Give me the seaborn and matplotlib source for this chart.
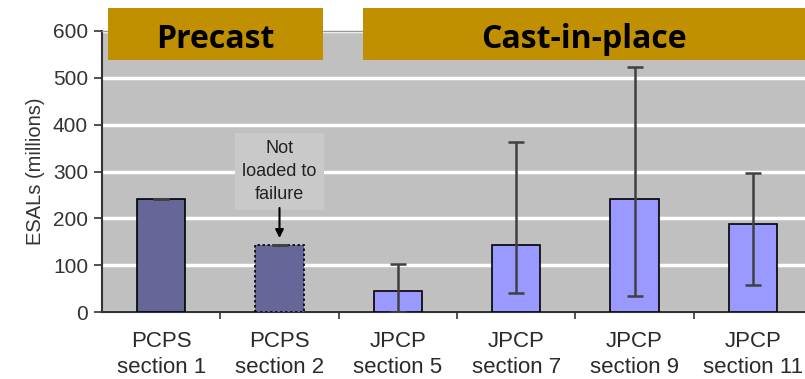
import numpy as np
import pandas as pd
import seaborn as sns
import matplotlib.pyplot as plt

sections = ["PCPS\nsection 1", "PCPS\nsection 2", "JPCP\nsection 5",
            "JPCP\nsection 7", "JPCP\nsection 9", "JPCP\nsection 11"]
kind = ["Precast", "Precast", "Cast-in-place", "Cast-in-place",
        "Cast-in-place", "Cast-in-place"]
esals = [241, 143, 45, 143, 241, 188]
err_low = [241, 143, 0, 41, 34, 58]
err_high = [241, 143, 102, 363, 524, 297]

df = pd.DataFrame({"section": sections, "kind": kind, "esals": esals})

sns.set_theme(style="white")
plt.rcParams['font.family'] = ['Liberation Sans', 'DejaVu Sans']

fig = plt.figure(figsize=(8.05, 3.79), dpi=100)
ax = fig.add_axes([102 / 805, 67 / 379, 710 / 805, 281 / 379])
ax.set_facecolor("#c0c0c0")

sns.barplot(data=df, x="section", y="esals", hue="kind", dodge=False,
            palette={"Precast": "#666699", "Cast-in-place": "#9999ff"},
            saturation=1, width=0.41, edgecolor="black", linewidth=1.2,
            legend=False, ax=ax, zorder=3)

# dotted outline for the section not loaded to failure
ax.patches[1].set_linestyle((0, (1.5, 1.5)))

x = np.arange(len(sections))
mid = np.array(esals)
yerr = [mid - np.array(err_low), np.array(err_high) - mid]
ax.errorbar(x, mid, yerr=yerr, fmt="none", ecolor="#404040",
            elinewidth=1.8, capsize=6, capthick=1.8, zorder=4)

ax.set_ylim(0, 600)
ax.set_xlim(-0.5, 5.5)
ax.set_yticks(range(0, 601, 100))
ax.yaxis.grid(True, color="white", linewidth=2.5, zorder=0)
ax.set_axisbelow(True)
ax.set_xlabel("")
ax.set_ylabel("ESALs (millions)", fontsize=14.5, color="#333333", labelpad=6)

ax.tick_params(axis="y", direction="out", length=6, width=1.2,
               colors="#333333", labelsize=15, left=True, pad=4)
ax.tick_params(axis="x", which="major", length=0, labelsize=16,
               labelcolor="#2a2a2a", pad=14)
for lab in ax.get_xticklabels():
    lab.set_linespacing(1.3)
ax.set_xticks(np.arange(0.5, 5.5, 1), minor=True)
ax.tick_params(axis="x", which="minor", direction="out", length=5,
               width=1.2, color="#333333", bottom=True)

for s in ["left", "bottom"]:
    ax.spines[s].set_color("#333333")
    ax.spines[s].set_linewidth(1.5)
ax.spines["top"].set_color("#999999")
ax.spines["top"].set_linewidth(1)
ax.spines["right"].set_visible(False)

# annotation
ax.text(1, 300, "Not\nloaded to\nfailure", ha="center", va="center",
        fontsize=13, color="#222222", linespacing=1.45,
        bbox=dict(boxstyle="square,pad=0.4", facecolor="#c9c9c9",
                  edgecolor="none"), zorder=5)
ax.annotate("", xy=(1, 152), xytext=(1, 228),
            arrowprops=dict(arrowstyle="-|>", color="black", lw=1.5,
                            mutation_scale=12), zorder=6)

# category banners
for label, x0, x1 in [("Precast", 108, 323), ("Cast-in-place", 363, 805)]:
    fig.patches.append(plt.Rectangle((x0 / 805, 1 - 60 / 379),
                                     (x1 - x0) / 805, 52 / 379,
                                     transform=fig.transFigure,
                                     facecolor="#c09000", edgecolor="none",
                                     zorder=10))
    fig.text((x0 + x1) / 2 / 805, 1 - 40 / 379, label, ha="center",
             va="center", fontsize=23, fontweight="bold",
             family=["Open Sans", "DejaVu Sans"], color="black", zorder=11)

fig.savefig("out.png", dpi=100)
